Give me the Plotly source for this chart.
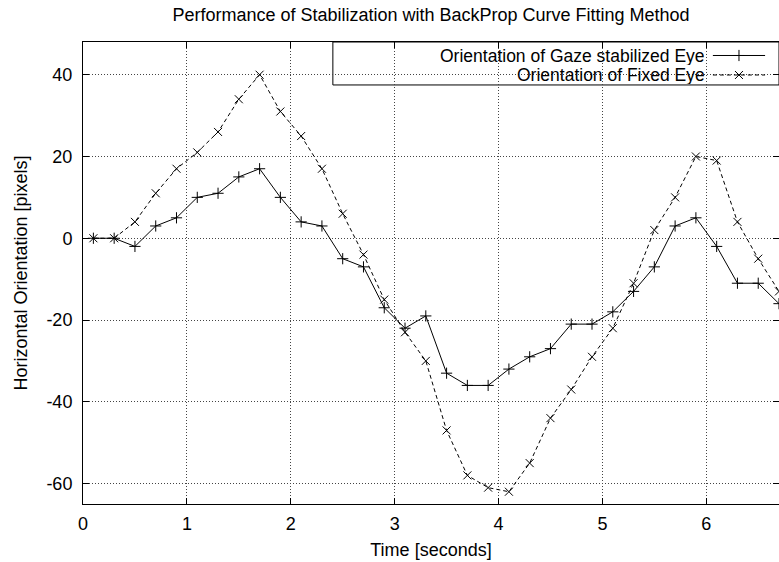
import plotly.graph_objects as go

time_s = [0.1, 0.3, 0.5, 0.7, 0.9, 1.1, 1.3, 1.5, 1.7, 1.9, 2.1, 2.3, 2.5, 2.7, 2.9,
          3.1, 3.3, 3.5, 3.7, 3.9, 4.1, 4.3, 4.5, 4.7, 4.9, 5.1, 5.3, 5.5, 5.7, 5.9,
          6.1, 6.3, 6.5, 6.7]
gaze_stabilized = [0, 0, -2, 3, 5, 10, 11, 15, 17, 10, 4, 3, -5, -7, -17,
                   -22, -19, -33, -36, -36, -32, -29, -27, -21, -21, -18, -13, -7, 3, 5,
                   -2, -11, -11, -16]
fixed_eye = [0, 0, 4, 11, 17, 21, 26, 34, 40, 31, 25, 17, 6, -4, -15,
             -23, -30, -47, -58, -61, -62, -55, -44, -37, -29, -22, -11, 2, 10, 20,
             19, 4, -5, -13]
series_names = ["Orientation of Gaze stabilized Eye", "Orientation of Fixed Eye"]
x_ticks = [0, 1, 2, 3, 4, 5, 6]
y_ticks = [-60, -40, -20, 0, 20, 40]

FONT = "Liberation Sans, Arial, Helvetica, sans-serif"
FS = 18
LFS = 17.5
DASH = "4px,3px"
MS = 8

fig = go.Figure()
fig.add_trace(go.Scatter(
    x=time_s, y=gaze_stabilized, mode="lines+markers", name=series_names[0],
    line=dict(color="black", width=1),
    marker=dict(symbol="cross-thin", size=MS, line=dict(color="black", width=1)),
    showlegend=False))
fig.add_trace(go.Scatter(
    x=time_s, y=fixed_eye, mode="lines+markers", name=series_names[1],
    line=dict(color="black", width=1, dash=DASH),
    marker=dict(symbol="x-thin", size=MS, line=dict(color="black", width=1)),
    showlegend=False))

# custom gnuplot-style legend (text right, sample on the right)
leg_left, leg_bottom = 0.359, 0.907
row_y = [0.9708, 0.9286]
text_right = 0.895
line_x0, line_x1 = 0.905, 0.980
mark_x = (line_x0 + line_x1) / 2
symbols = ["cross-thin", "x-thin"]
dashes = ["solid", DASH]

shapes = [dict(type="rect", xref="paper", yref="paper", x0=leg_left, x1=1.0,
               y0=leg_bottom, y1=1.0, fillcolor="white",
               line=dict(color="black", width=1), layer="between")]
annotations = []
for i, name in enumerate(series_names):
    annotations.append(dict(xref="paper", yref="paper", x=text_right, y=row_y[i],
                            text=name, showarrow=False, xanchor="right",
                            yanchor="middle", height=19, borderpad=0,
                            font=dict(family=FONT, size=LFS, color="black")))
    shapes.append(dict(type="line", xref="paper", yref="paper", x0=line_x0, x1=line_x1,
                       y0=row_y[i], y1=row_y[i],
                       line=dict(color="black", width=1, dash=dashes[i]), layer="above"))
    fig.add_trace(go.Scatter(x=[mark_x], y=[row_y[i]], xaxis="x2", yaxis="y2",
                             mode="markers", showlegend=False, hoverinfo="skip",
                             marker=dict(symbol=symbols[i], size=MS,
                                         line=dict(color="black", width=1))))

axis_common = dict(
    showline=True, linecolor="black", linewidth=1, mirror="ticks",
    ticks="inside", ticklen=6, tickcolor="black",
    showgrid=True, gridcolor="#444444", gridwidth=1, griddash="1px,2px",
    zeroline=False, tickfont=dict(family=FONT, size=FS, color="black"),
)

fig.update_layout(
    width=779, height=562,
    margin=dict(l=83, r=0, t=42, b=58),
    paper_bgcolor="white", plot_bgcolor="white",
    title=dict(text="Performance of Stabilization with BackProp Curve Fitting Method",
               x=0.5, xref="paper", y=1 - 15 / 562, yref="container", yanchor="middle",
               font=dict(family=FONT, size=FS, color="black")),
    xaxis=dict(range=[0, 6.7], tickvals=x_ticks, ticktext=[str(v) for v in x_ticks],
               ticklabelstandoff=3,
               title=dict(text="Time [seconds]", standoff=10,
                          font=dict(family=FONT, size=FS, color="black")),
               **axis_common),
    yaxis=dict(range=[-65, 48], tickvals=y_ticks, ticktext=[str(v) for v in y_ticks],
               ticklabelstandoff=6,
               title=dict(text="Horizontal Orientation [pixels]", standoff=14,
                          font=dict(family=FONT, size=FS, color="black")),
               **axis_common),
    xaxis2=dict(range=[0, 1], domain=[0, 1], overlaying="x", anchor="y2", visible=False,
                fixedrange=True),
    yaxis2=dict(range=[0, 1], domain=[0, 1], overlaying="y", anchor="x2", visible=False,
                fixedrange=True),
    shapes=shapes,
    annotations=annotations,
    showlegend=False,
)

fig.write_html("out.html")
